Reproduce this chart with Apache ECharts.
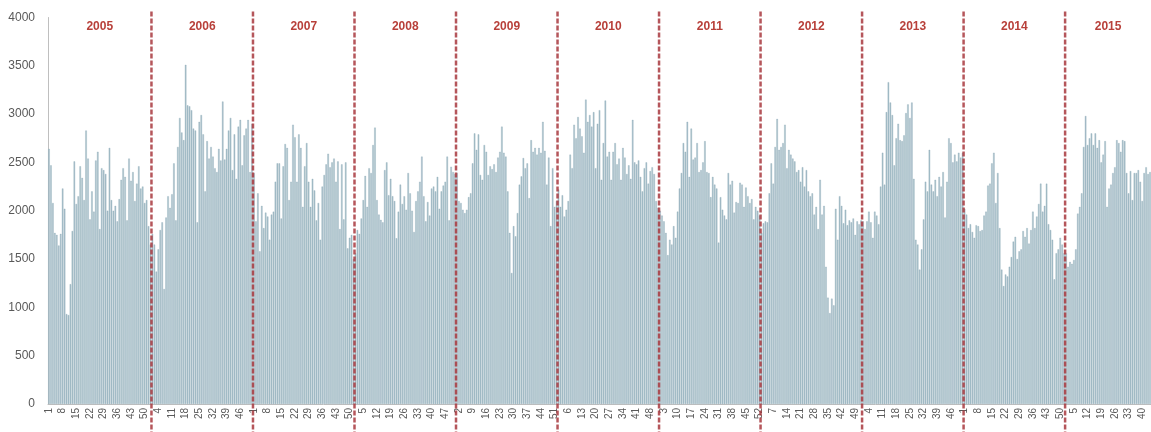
<!DOCTYPE html>
<html>
<head>
<meta charset="utf-8">
<script src="https://cdn.jsdelivr.net/npm/echarts@6/dist/echarts.min.js"></script>
<style>
html,body{margin:0;padding:0;background:#fff;}
#chart{width:1151px;height:432px;}
</style>
</head>
<body>
<div id="chart"></div>
<script>
// ---- data (weekly values) ----
const years = [2005, 2006, 2007, 2008, 2009, 2010, 2011, 2012, 2013, 2014, 2015];
const v2005 = [2640,2470,2080,1770,1750,1640,1760,2230,2020,930,920,1240,1790,2510,2070,2150,2460,2340,2110,2830,2540,1910,2200,1990,2520,2610,1810,2440,2420,2380,2000,2650,2110,2000,2050,1890,2120,2320,2440,2350,1900,2540,2310,2400,2100,2280,2460,2230,2250,2080,2110,1840,1650];
const v2006 = [1760,1650,1370,1600,1800,1880,1190,1930,2150,2030,2170,2490,1900,2660,2960,2810,2730,3510,3090,3080,3040,2850,2830,1880,2920,2990,2790,2200,2720,2540,2660,2560,2440,2400,2640,2520,3130,2530,2640,2830,2960,2420,2790,2330,2870,2940,2470,2780,2850,2940,2400,2900];
const v2007 = [2390,1890,2180,1580,2050,1820,1980,1940,1700,1960,1990,2300,2490,2490,1920,2460,2690,2650,2110,2300,2890,2760,2300,2790,2650,2040,2460,2700,2300,2040,2330,2210,1900,2080,1700,2250,2370,2480,2590,2450,2500,2540,2300,2510,1810,2480,1910,2500,1610,1720,1750,1500];
const v2008 = [1560,1800,1760,1920,2110,2360,2040,2440,2390,2680,2860,2110,1960,1905,1880,2420,2500,2160,2330,2150,2100,1715,1990,2270,2070,2150,2010,2390,2180,2000,1780,2100,2200,2300,2560,2150,1890,2090,1950,2230,2250,2200,2350,2020,2200,2260,2300,2560,1900,2455,2400,2380];
const v2009 = [2390,2100,2080,2010,1975,2010,2140,2180,2490,2800,2630,2790,2370,2320,2680,2610,2370,2460,2430,2480,2400,2550,2610,2870,2600,2560,2200,1770,1355,1840,1735,1975,2270,2355,2545,2440,2490,2130,2730,2610,2650,2580,2650,2600,2920,2620,2270,2550,1840,2440,2040,2100];
const v2010 = [2220,2040,2160,1940,2010,2100,2580,2440,2890,2750,2970,2850,2770,2600,3150,2920,2990,2870,3020,2440,2900,3040,2320,2700,3140,2560,2610,2320,2610,2700,2480,2540,2320,2650,2550,2380,2470,2330,2940,2500,2480,2520,2350,2200,2440,2500,2280,2410,2450,2380,2100,2030];
const v2011 = [2000,1950,1890,1770,1540,1700,1650,1840,1720,1990,2230,2390,2700,2610,2920,2350,2850,2530,2550,2700,2400,2420,2500,2720,2400,2390,2140,2350,2270,2230,1670,2140,2010,1950,1910,2390,2270,2310,1980,2090,2080,2290,2270,2040,2240,2150,2080,2120,1910,2040,2000,1950];
const v2012 = [1770,1870,1890,1880,2180,2490,2280,2660,2950,2630,2660,2700,2890,2440,2630,2580,2540,2510,2400,2420,2300,2450,2250,2420,2200,2150,2180,1960,2040,1810,2320,1960,2050,1420,1100,940,1090,1020,2020,1700,2150,2050,1870,2010,1850,1900,1880,1920,1750,1890,1860,1900];
const v2013 = [1890,1810,1890,1990,1880,1720,1990,1950,1860,2250,2600,2270,3020,3330,3120,2990,2470,2750,2900,2730,2720,2780,3010,3100,2960,3120,2330,1700,1650,1390,1600,1910,2300,2200,2630,2270,2200,2320,2150,2350,2250,2400,1930,2300,2750,2700,2500,2580,2510,2600,2550,2600];
const v2014 = [2020,1960,1820,1860,1780,1720,1850,1840,1790,1800,1950,1990,2260,2280,2490,2600,2080,2390,1820,1390,1220,1340,1320,1420,1520,1680,1730,1500,1580,1600,1790,1730,1820,1660,1800,1990,1820,1940,2070,2280,1990,2050,2280,1860,1800,1700,1290,1560,1600,1720,1650,1560];
const v2015 = [1560,1420,1470,1450,1490,1600,1970,2040,2180,2660,2980,2680,2750,2800,2680,2800,2650,2730,2500,2580,2720,2040,2230,2270,2390,2450,2730,2700,2610,2730,2720,2390,2180,2410,2110,2390,2390,2420,2300,2100,2390,2450,2380,2400];
const yTicks = [0, 500, 1000, 1500, 2000, 2500, 3000, 3500, 4000];

const yearValues = [v2005, v2006, v2007, v2008, v2009, v2010, v2011, v2012, v2013, v2014, v2015];

// build category keys (year-week) and the flat series
const categories = [];
const values = [];
const yearSpans = [];
yearValues.forEach(function (arr, yi) {
  const start = categories.length;
  arr.forEach(function (v, wi) {
    categories.push(years[yi] + '-' + (wi + 1));
    values.push(v);
  });
  yearSpans.push([start, 0, categories.length - 1, years[yi]]);
});

const chart = echarts.init(document.getElementById('chart'));
chart.setOption({
  animation: false,
  backgroundColor: '#ffffff',
  grid: { left: 48, right: 0, top: 17.5, bottom: 28 },
  xAxis: {
    type: 'category',
    data: categories,
    boundaryGap: true,
    axisLine: { show: true, lineStyle: { color: '#bfbfbf', width: 1 } },
    axisTick: { show: false },
    axisLabel: {
      interval: 6,
      rotate: 90,
      margin: 4,
      fontSize: 10,
      color: '#595959',
      fontFamily: 'Liberation Sans, Arial, sans-serif',
      formatter: function (v) { return v.split('-')[1]; }
    },
    splitLine: { show: false }
  },
  yAxis: {
    type: 'value',
    min: yTicks[0],
    max: yTicks[yTicks.length - 1],
    interval: yTicks[1] - yTicks[0],
    axisLine: { show: true, lineStyle: { color: '#bfbfbf', width: 1 } },
    axisTick: { show: false },
    axisLabel: {
      fontSize: 12,
      color: '#595959',
      margin: 13,
      fontFamily: 'Liberation Sans, Arial, sans-serif',
      formatter: function (v) { return String(v); }
    },
    splitLine: { show: false }
  },
  series: [
    {
      type: 'bar',
      data: values,
      barCategoryGap: '25%',
      itemStyle: { color: '#a9c1cb', borderColor: '#86a3b0', borderWidth: 0.3 },
      z: 2
    },
    {
      type: 'custom',
      data: yearSpans,
      clip: false,
      z: 5,
      silent: true,
      encode: { x: 0, y: 1 },
      renderItem: function (params, api) {
        const s = api.value(0);
        const e = api.value(2);
        const yr = api.value(3);
        const bw = api.size([1, 0])[0];
        const xL = api.coord([s, 0])[0] - bw / 2;
        const xR = api.coord([e, 0])[0] + bw / 2;
        const yTop = api.coord([s, 4000])[1];
        const yBot = api.coord([s, 0])[1];
        const children = [{
          type: 'text',
          style: {
            text: String(yr),
            x: (xL + xR) / 2,
            y: api.coord([s, 3900])[1],
            align: 'center',
            verticalAlign: 'middle',
            fill: '#b8403a',
            font: 'bold 12px "Liberation Sans", Arial, sans-serif'
          }
        }];
        if (params.dataIndex > 0) {
          children.push({
            type: 'line',
            shape: { x1: xL, y1: yTop - 6, x2: xL, y2: yBot + 30 },
            style: { stroke: '#a8383e', lineWidth: 2.5, lineDash: [5, 2], opacity: 0.85 }
          });
        }
        return { type: 'group', children: children };
      }
    }
  ]
});
</script>
</body>
</html>
